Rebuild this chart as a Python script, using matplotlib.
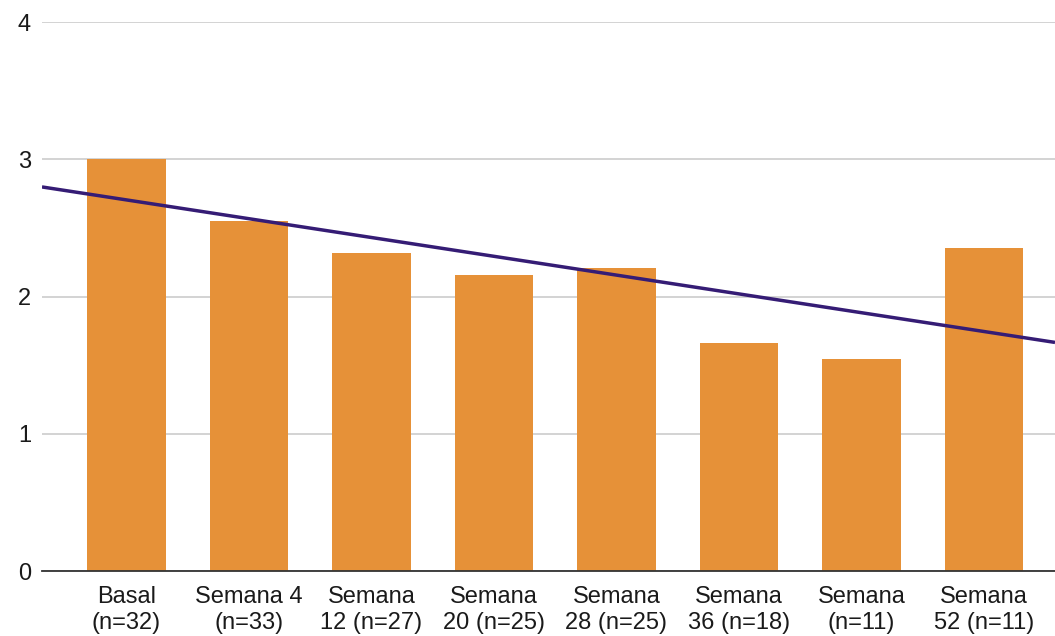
import matplotlib
matplotlib.use("Agg")
import matplotlib.pyplot as plt
import numpy as np

categories = ["Basal\n(n=32)", "Semana 4\n(n=33)", "Semana\n12 (n=27)", "Semana\n20 (n=25)",
              "Semana\n28 (n=25)", "Semana\n36 (n=18)", "Semana\n(n=11)", "Semana\n52 (n=11)"]
values = [3.0, 2.55, 2.32, 2.16, 2.21, 1.66, 1.545, 2.35]
yticks = [0, 1, 2, 3, 4]

plt.rcParams['font.family'] = ['Liberation Sans', 'DejaVu Sans']

fig = plt.figure(figsize=(10.55, 6.36), dpi=100)
ax = fig.add_axes([0.0398, 0.1022, 0.9602, 0.8632])

x = np.arange(len(categories))
ax.bar(x, values, width=0.64, color="#E69138", zorder=2)

xlim = (-0.69, 7.58)
coef = np.polyfit(x, values, 1)
xt = np.array(xlim)
ax.plot(xt, np.polyval(coef, xt), color="#351C75", lw=2.5, zorder=3, solid_capstyle="butt")

ax.set_xlim(*xlim)
ax.set_ylim(0, 4)
ax.set_yticks(yticks)
ax.set_yticklabels([str(v) for v in yticks], fontsize=17, color="#1a1a1a")
ax.set_xticks(x)
ax.set_xticklabels(categories, fontsize=17, color="#1a1a1a", linespacing=1.2)
ax.tick_params(axis="y", length=0, pad=8)
ax.tick_params(axis="x", length=0, pad=11)
ax.grid(axis="y", color="#CCCCCC", lw=1.2, zorder=0)
for s in ["top", "right", "left"]:
    ax.spines[s].set_visible(False)
ax.spines["bottom"].set_color("#333333")
ax.spines["bottom"].set_linewidth(1.3)
ax.spines["bottom"].set_zorder(4)

fig.savefig("out.png", dpi=100, facecolor="white")
